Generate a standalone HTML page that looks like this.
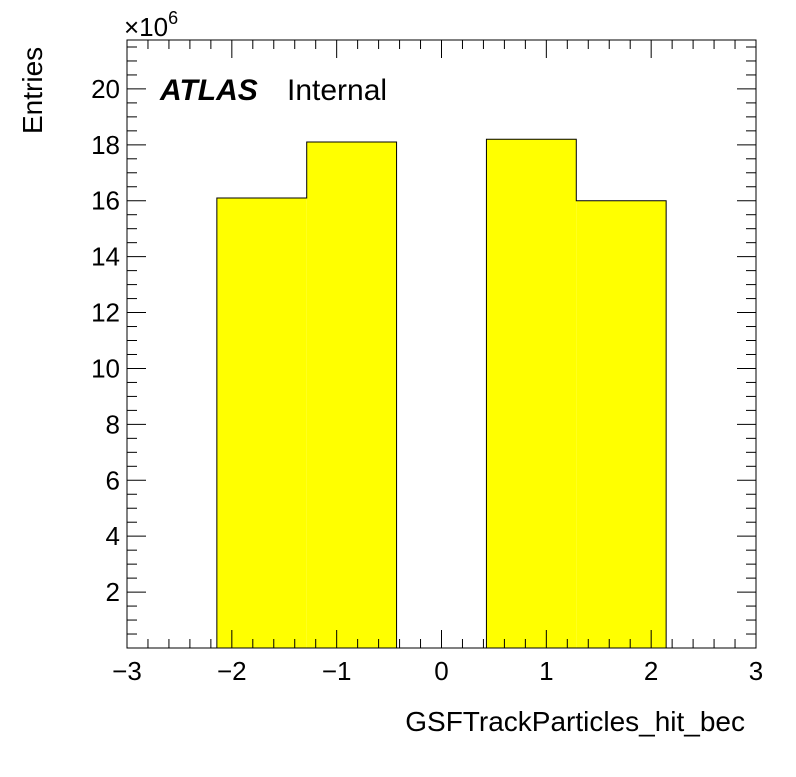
<!DOCTYPE html>
<html><head><meta charset="utf-8"><style>body{margin:0;background:#fff}svg text{font-family:"Liberation Sans",Arial,sans-serif}</style></head>
<body>
<svg id="c" width="796" height="772" xmlns="http://www.w3.org/2000/svg"></svg>
<script>
const binEdges=[-3,-2.1429,-1.2857,-0.4286,0.4286,1.2857,2.1429,3];
const binValues=[0,16.1,18.1,0,18.2,16.0,0];
const xTicks=[-3,-2,-1,0,1,2,3];
const xTickLabels=["\u22123","\u22122","\u22121","0","1","2","3"];
const yTicks=[2,4,6,8,10,12,14,16,18,20];
const yTickLabels=["2","4","6","8","10","12","14","16","18","20"];
const L=127,R=756,T=40,B=648,xmin=-3,xmax=3,ymin=0,ymax=21.75;
const X=v=>L+(v-xmin)/(xmax-xmin)*(R-L);
const Y=v=>B-(v-ymin)/(ymax-ymin)*(B-T);
const s=document.getElementById('c');const NS="http://www.w3.org/2000/svg";
function mk(t,a,p){const e=document.createElementNS(NS,t);for(const k in a)e.setAttribute(k,a[k]);(p||s).appendChild(e);return e;}
let d="M"+X(binEdges[0])+","+Y(0);
binValues.forEach((v,i)=>{d+=" L"+X(binEdges[i])+","+Y(v)+" L"+X(binEdges[i+1])+","+Y(v);});
d+=" L"+X(binEdges[binEdges.length-1])+","+Y(0);
binValues.forEach((v,i)=>{if(v>0){const r=mk('rect',{x:X(binEdges[i]),y:Y(v),width:X(binEdges[i+1])-X(binEdges[i]),height:Y(0)-Y(v),fill:'#ffff00'});

}});
const h=mk('path',{d:d,fill:'none',stroke:'#000','stroke-width':1});


const ax=mk('g',{stroke:'#000','stroke-width':1});


mk('rect',{x:L,y:T,width:R-L,height:B-T,fill:'none'},ax);
for(let v=-3;v<=3.001;v+=0.2){const x=X(v);const maj=Math.abs(v-Math.round(v))<1e-6;const len=maj?18:9;
mk('line',{x1:x,y1:B,x2:x,y2:B-len},ax);mk('line',{x1:x,y1:T,x2:x,y2:T+len},ax);}
for(let v=0.5;v<=ymax;v+=0.5){const y=Y(v);const maj=Math.abs(v/2-Math.round(v/2))<1e-6;const len=maj?19:10;
mk('line',{x1:L,y1:y,x2:L+len,y2:y},ax);mk('line',{x1:R,y1:y,x2:R-len,y2:y},ax);}
xTicks.forEach((v,i)=>{const t=mk('text',{x:X(v),y:680,'font-size':26,'text-anchor':'middle'});t.textContent=xTickLabels[i];

});
yTicks.forEach((v,i)=>{const t=mk('text',{x:120,y:Y(v)+9,'font-size':26,'text-anchor':'end'});t.textContent=yTickLabels[i];

});
</script>
<svg style="position:absolute;left:0;top:0" width="796" height="772" xmlns="http://www.w3.org/2000/svg">
<text x="124" y="36" font-size="26" font-family="Liberation Sans,sans-serif">×10<tspan dy="-12" font-size="18">6</tspan></text>
<text transform="translate(42,134) rotate(-90)" font-size="28" font-family="Liberation Sans,sans-serif">Entries</text>
<text x="745" y="731" font-size="28" text-anchor="end" font-family="Liberation Sans,sans-serif">GSFTrackParticles_hit_bec</text>
<text x="160" y="100" font-size="30" font-weight="bold" font-style="italic" font-family="Liberation Sans,sans-serif">ATLAS</text>
<text x="287" y="100" font-size="30" font-family="Liberation Sans,sans-serif">Internal</text>
</svg>
</body></html>
